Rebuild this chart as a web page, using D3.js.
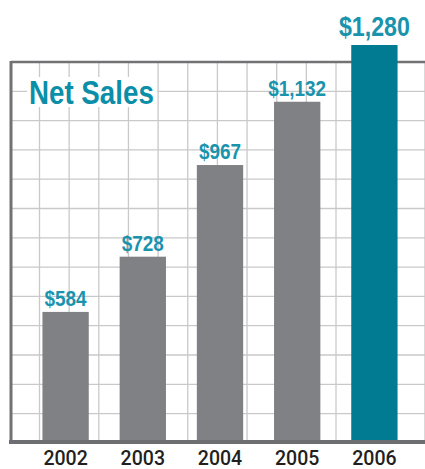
<!DOCTYPE html>
<html lang="en">
<head>
    <meta charset="UTF-8">
    <title>Net Sales</title>
    <script src="https://cdnjs.cloudflare.com/ajax/libs/d3/7.8.5/d3.min.js"></script>
    <style>
        body { margin: 0; background: #fff; }
        svg { display: block; }
        .label { font-family: "Liberation Sans", Arial, sans-serif; font-weight: bold; fill: #1a93ad; }
        .axis text { font-family: Roboto, "Liberation Sans", sans-serif; font-weight: 500; font-size: 21px; fill: #231f20; }
    </style>
</head>
<body>
<script type="text/javascript">
    const years = ["2002", "2003", "2004", "2005", "2006"];
    const sales = [584, 728, 967, 1132, 1280];
    const labels = ["$584", "$728", "$967", "$1,132", "$1,280"];

    const width = 425;
    const height = 469;
    const frameLeft = 11, frameTop = 62, frameBottom = 442;

    // squeeze text to look like a condensed face
    function condense(sel, k) {
        sel.each(function() {
            const len = this.getComputedTextLength();
            d3.select(this).attr("textLength", len * k).attr("lengthAdjust", "spacingAndGlyphs");
        });
    }

    const svg = d3.select("body").append("svg")
        .attr("width", width)
        .attr("height", height);

    // grid behind everything
    const grid = svg.append("g");
    const gx = d3.range(39.5, width + 1, 29.65);
    const gy = d3.range(frameTop + 29.3, frameBottom - 5, 29.3);
    grid.selectAll("line.v").data(gx).enter().append("line")
        .attr("x1", d => d).attr("x2", d => d)
        .attr("y1", frameTop).attr("y2", frameBottom)
        .attr("stroke", "#c9c9cb").attr("stroke-width", 1.3);
    grid.selectAll("line.h").data(gy).enter().append("line")
        .attr("x1", frameLeft).attr("x2", width)
        .attr("y1", d => d).attr("y2", d => d)
        .attr("stroke", "#c9c9cb").attr("stroke-width", 1.3);

    // frame
    svg.append("line").attr("x1", frameLeft).attr("x2", width).attr("y1", frameTop).attr("y2", frameTop)
        .attr("stroke", "#727275").attr("stroke-width", 2.5);
    svg.append("line").attr("x1", frameLeft).attr("x2", frameLeft).attr("y1", frameTop - 1).attr("y2", frameBottom)
        .attr("stroke", "#727275").attr("stroke-width", 3);

    // title with white box
    svg.append("rect").attr("x", 27).attr("y", 77).attr("width", 130).attr("height", 30).attr("fill", "#fff");
    svg.append("text").attr("class", "label")
        .attr("x", 29).attr("y", 104)
        .attr("font-size", 33)
        .style("fill", "#0b8fa8")
        .text("Net Sales")
        .call(condense, 0.84);

    const xScale = d3.scaleBand()
        .domain(years)
        .range([27, 413])
        .paddingInner(0.4)
        .paddingOuter(0.2);

    // the picture's bars do not start from zero; fitted baseline
    const yScale = d3.scaleLinear()
        .domain([250, 1280])
        .range([frameBottom - 2, 45]);

    svg.selectAll("rect.bar")
        .data(sales)
        .enter()
        .append("rect")
        .attr("class", "bar")
        .attr("x", (d, i) => xScale(years[i]))
        .attr("y", d => yScale(d))
        .attr("width", xScale.bandwidth())
        .attr("height", d => yScale(250) - yScale(d))
        .attr("fill", (d, i) => i === sales.length - 1 ? "#007b91" : "#808184");

    svg.selectAll("text.val")
        .data(sales)
        .enter()
        .append("text")
        .attr("class", "label val")
        .attr("x", (d, i) => xScale(years[i]) + xScale.bandwidth() / 2)
        .attr("y", (d, i) => yScale(d) - (i === sales.length - 1 ? 9 : 6))
        .attr("text-anchor", "middle")
        .attr("font-size", (d, i) => i === sales.length - 1 ? 27 : 22)
        .text((d, i) => labels[i])
        .call(condense, 0.86);

    const xAxis = d3.axisBottom(xScale).tickSize(0).tickPadding(0);
    const ax = svg.append("g")
        .attr("class", "axis")
        .attr("transform", "translate(0," + frameBottom + ")")
        .call(xAxis);
    ax.select(".domain").remove();
    ax.selectAll("text").attr("y", 22.5).attr("dy", 0).call(condense, 0.93);

    svg.append("line").attr("x1", frameLeft - 2).attr("x2", width).attr("y1", frameBottom).attr("y2", frameBottom)
        .attr("stroke", "#6d6e71").attr("stroke-width", 4);
</script>
</body>
</html>
